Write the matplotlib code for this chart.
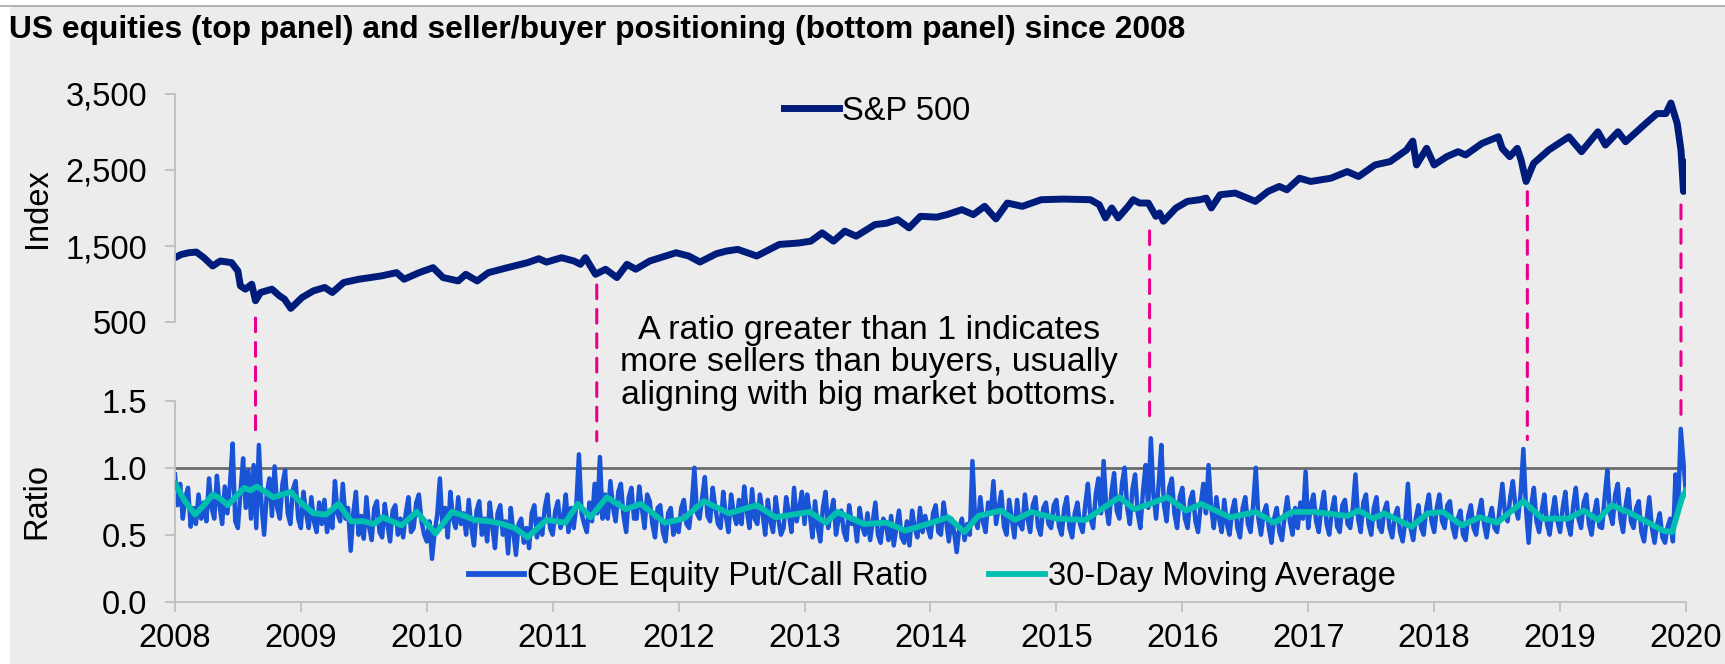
import matplotlib
matplotlib.use("Agg")
import matplotlib.pyplot as plt
from matplotlib.patches import Rectangle, ConnectionPatch
from matplotlib.lines import Line2D

plt.rcParams['font.family'] = ['Liberation Sans', 'DejaVu Sans']

# S&P 500 index (date, level)
sp_dates = [2008.00, 2008.05, 2008.11, 2008.17, 2008.23, 2008.30, 2008.36, 2008.45, 2008.50, 2008.52,
            2008.56, 2008.61, 2008.64, 2008.68, 2008.77, 2008.83, 2008.87, 2008.92, 2009.01, 2009.10,
            2009.19, 2009.25, 2009.34, 2009.46, 2009.55, 2009.64, 2009.76, 2009.82, 2009.94, 2010.05,
            2010.13, 2010.25, 2010.31, 2010.40, 2010.49, 2010.64, 2010.80, 2010.89, 2010.95, 2011.07,
            2011.17, 2011.22, 2011.26, 2011.34, 2011.42, 2011.51, 2011.59, 2011.66, 2011.77, 2011.98,
            2012.08, 2012.17, 2012.30, 2012.38, 2012.47, 2012.62, 2012.80, 2012.95, 2013.05, 2013.14,
            2013.23, 2013.32, 2013.41, 2013.56, 2013.65, 2013.74, 2013.83, 2013.92, 2014.05, 2014.13,
            2014.25, 2014.34, 2014.43, 2014.52, 2014.61, 2014.73, 2014.88, 2015.06, 2015.27, 2015.34,
            2015.39, 2015.44, 2015.49, 2015.57, 2015.61, 2015.66, 2015.73, 2015.79, 2015.82, 2015.85,
            2015.95, 2016.04, 2016.14, 2016.19, 2016.23, 2016.30, 2016.42, 2016.58, 2016.68, 2016.77,
            2016.83, 2016.93, 2017.02, 2017.18, 2017.31, 2017.40, 2017.53, 2017.65, 2017.78, 2017.83,
            2017.86, 2017.94, 2018.00, 2018.10, 2018.19, 2018.25, 2018.38, 2018.51, 2018.54, 2018.60,
            2018.66, 2018.69, 2018.73, 2018.79, 2018.91, 2019.07, 2019.17, 2019.30, 2019.36, 2019.46,
            2019.52, 2019.68, 2019.77, 2019.84, 2019.88, 2019.93, 2019.96, 2019.98, 2020.00]
sp_values = [1348, 1390, 1413, 1422, 1348, 1239, 1304, 1283, 1174, 978,
             935, 1000, 783, 891, 935, 848, 804, 683, 826, 913,
             957, 891, 1022, 1065, 1087, 1109, 1152, 1065, 1152, 1217,
             1087, 1043, 1130, 1043, 1152, 1217, 1283, 1335, 1290, 1348,
             1304, 1261, 1348, 1130, 1196, 1087, 1261, 1196, 1304, 1413,
             1370, 1291, 1400, 1435, 1457, 1370, 1522, 1540, 1565, 1674,
             1565, 1696, 1630, 1783, 1800, 1848, 1739, 1891, 1880, 1913,
             1978, 1913, 2022, 1857, 2065, 2022, 2109, 2117, 2109, 2043,
             1870, 2000, 1870, 2022, 2109, 2065, 2065, 1891, 1935, 1826,
             2000, 2087, 2109, 2130, 2000, 2174, 2196, 2087, 2217, 2283,
             2239, 2391, 2348, 2391, 2478, 2413, 2565, 2609, 2761, 2878,
             2565, 2783, 2565, 2674, 2739, 2696, 2848, 2935, 2783, 2674,
             2783, 2630, 2348, 2587, 2761, 2935, 2739, 3000, 2826, 3000,
             2870, 3109, 3239, 3239, 3378, 3109, 2761, 2217, 2600]

# CBOE equity put/call ratio, read roughly weekly (48 per year) from 2008 to 2020
ratio_values = [
    # 2008
    0.95, 0.72, 0.88, 0.62, 0.78, 0.85, 0.56, 0.70, 0.58, 0.80, 0.62, 0.74, 0.60, 0.92, 0.70, 0.62,
    0.94, 0.72, 0.58, 0.86, 0.66, 0.88, 1.18, 0.60, 0.55, 0.82, 1.07, 0.70, 0.98, 0.62, 1.02, 0.55,
    1.17, 0.72, 0.50, 0.80, 0.92, 0.64, 1.01, 0.70, 0.62, 0.88, 0.98, 0.66, 0.58, 0.84, 0.90, 0.62,
    # 2009
    0.55, 0.82, 0.66, 0.55, 0.78, 0.60, 0.52, 0.74, 0.58, 0.76, 0.52, 0.68, 0.55, 0.90, 0.66, 0.60,
    0.88, 0.62, 0.70, 0.38, 0.66, 0.82, 0.50, 0.64, 0.47, 0.78, 0.56, 0.46, 0.70, 0.75, 0.52, 0.48,
    0.73, 0.58, 0.45, 0.68, 0.72, 0.50, 0.62, 0.48, 0.66, 0.78, 0.52, 0.55, 0.74, 0.80, 0.60, 0.50,
    # 2010
    0.45, 0.60, 0.32, 0.52, 0.65, 0.92, 0.56, 0.70, 0.48, 0.82, 0.62, 0.55, 0.78, 0.58, 0.66, 0.50,
    0.76, 0.55, 0.42, 0.68, 0.75, 0.50, 0.62, 0.45, 0.74, 0.56, 0.40, 0.66, 0.72, 0.50, 0.60, 0.36,
    0.70, 0.52, 0.35, 0.58, 0.62, 0.44, 0.55, 0.40, 0.66, 0.72, 0.48, 0.62, 0.50, 0.70, 0.80, 0.55,
    # 2011
    0.50, 0.68, 0.75, 0.55, 0.62, 0.80, 0.52, 0.70, 0.55, 0.72, 1.10, 0.66, 0.58, 0.52, 0.74, 0.60,
    0.88, 0.66, 1.08, 0.62, 0.80, 0.62, 0.90, 0.70, 0.60, 0.82, 0.88, 0.64, 0.52, 0.78, 0.85, 0.62,
    0.62, 0.86, 0.70, 0.55, 0.80, 0.75, 0.58, 0.48, 0.70, 0.72, 0.52, 0.45, 0.66, 0.70, 0.50, 0.58,
    # 2012
    0.52, 0.70, 0.76, 0.58, 0.55, 0.72, 1.00, 0.66, 0.62, 0.78, 0.93, 0.64, 0.60, 0.85, 0.70, 0.58,
    0.55, 0.82, 0.64, 0.52, 0.80, 0.66, 0.58, 0.76, 0.58, 0.86, 0.68, 0.55, 0.84, 0.62, 0.58, 0.80,
    0.66, 0.50, 0.76, 0.60, 0.52, 0.78, 0.62, 0.50, 0.55, 0.78, 0.66, 0.52, 0.85, 0.60, 0.70, 0.82,
    # 2013
    0.58, 0.80, 0.66, 0.48, 0.75, 0.56, 0.45, 0.70, 0.82, 0.55, 0.66, 0.76, 0.50, 0.62, 0.68, 0.52,
    0.46, 0.72, 0.58, 0.62, 0.45, 0.70, 0.56, 0.50, 0.66, 0.46, 0.60, 0.74, 0.50, 0.44, 0.62, 0.58,
    0.46, 0.64, 0.42, 0.55, 0.68, 0.48, 0.44, 0.60, 0.42, 0.68, 0.55, 0.48, 0.70, 0.52, 0.64, 0.55,
    # 2014
    0.48, 0.66, 0.72, 0.52, 0.50, 0.74, 0.60, 0.45, 0.62, 0.52, 0.37, 0.55, 0.62, 0.46, 0.58, 0.50,
    1.05, 0.62, 0.55, 0.78, 0.60, 0.52, 0.74, 0.66, 0.90, 0.58, 0.70, 0.82, 0.56, 0.50, 0.76, 0.62,
    0.48, 0.76, 0.58, 0.54, 0.80, 0.62, 0.52, 0.72, 0.78, 0.56, 0.50, 0.70, 0.74, 0.58, 0.55, 0.72,
    # 2015
    0.76, 0.56, 0.50, 0.70, 0.78, 0.55, 0.48, 0.66, 0.74, 0.58, 0.52, 0.72, 0.88, 0.62, 0.55, 0.80,
    0.92, 0.66, 1.05, 0.70, 0.58, 0.82, 0.96, 0.68, 0.62, 0.88, 1.00, 0.70, 0.58, 0.84, 0.95, 0.66,
    0.55, 0.82, 1.02, 0.70, 1.22, 0.80, 0.62, 0.88, 1.17, 0.72, 0.60, 0.85, 0.92, 0.66, 0.55, 0.78,
    # 2016
    0.85, 0.62, 0.55, 0.76, 0.82, 0.60, 0.52, 0.72, 0.88, 0.66, 1.02, 0.70, 0.55, 0.78, 0.62, 0.52,
    0.76, 0.58, 0.50, 0.68, 0.76, 0.55, 0.48, 0.70, 0.78, 0.58, 0.52, 0.72, 1.00, 0.62, 0.50, 0.66,
    0.72, 0.55, 0.44, 0.62, 0.70, 0.52, 0.46, 0.64, 0.78, 0.60, 0.50, 0.70, 0.55, 0.74, 0.62, 0.97,
    # 2017
    0.55, 0.72, 0.80, 0.60, 0.52, 0.70, 0.82, 0.58, 0.50, 0.68, 0.78, 0.56, 0.52, 0.72, 0.76, 0.58,
    0.55, 0.70, 0.95, 0.62, 0.52, 0.74, 0.80, 0.58, 0.50, 0.70, 0.78, 0.56, 0.52, 0.68, 0.74, 0.55,
    0.48, 0.64, 0.70, 0.52, 0.45, 0.60, 0.88, 0.55, 0.46, 0.62, 0.72, 0.55, 0.50, 0.70, 0.80, 0.60,
    # 2018
    0.52, 0.70, 0.80, 0.60, 0.55, 0.72, 0.75, 0.56, 0.48, 0.62, 0.68, 0.50, 0.46, 0.64, 0.72, 0.55,
    0.50, 0.66, 0.76, 0.58, 0.48, 0.62, 0.70, 0.55, 0.52, 0.70, 0.88, 0.66, 0.60, 0.78, 0.90, 0.70,
    0.62, 0.82, 1.14, 0.70, 0.44, 0.72, 0.85, 0.60, 0.52, 0.68, 0.80, 0.58, 0.50, 0.66, 0.78, 0.60,
    # 2019
    0.52, 0.70, 0.82, 0.58, 0.50, 0.72, 0.85, 0.62, 0.55, 0.74, 0.80, 0.58, 0.50, 0.66, 0.76, 0.56,
    0.55, 0.78, 0.98, 0.66, 0.58, 0.80, 0.88, 0.62, 0.52, 0.72, 0.84, 0.60, 0.55, 0.70, 0.75, 0.52,
    0.45, 0.62, 0.78, 0.55, 0.44, 0.58, 0.66, 0.48, 0.44, 0.56, 0.62, 0.45, 0.95, 0.70, 1.29, 1.05,
    # 2020
    0.80,
]
ratio_dates = [2008 + i / 48 for i in range(len(ratio_values))]

# 30-day moving average (date, value)
ma_dates = [2008.00, 2008.08, 2008.16, 2008.23, 2008.30, 2008.36, 2008.42, 2008.48, 2008.55, 2008.60,
            2008.65, 2008.72, 2008.78, 2008.85, 2008.92, 2009.00, 2009.10, 2009.20, 2009.30, 2009.40,
            2009.50, 2009.58, 2009.65, 2009.80, 2009.92, 2010.07, 2010.20, 2010.30, 2010.38, 2010.50,
            2010.60, 2010.70, 2010.80, 2010.95, 2011.10, 2011.20, 2011.30, 2011.43, 2011.58, 2011.70,
            2011.89, 2012.04, 2012.20, 2012.40, 2012.62, 2012.77, 2013.04, 2013.17, 2013.26, 2013.47,
            2013.65, 2013.80, 2014.01, 2014.14, 2014.27, 2014.38, 2014.56, 2014.67, 2014.80, 2015.00,
            2015.23, 2015.50, 2015.62, 2015.74, 2015.88, 2016.03, 2016.15, 2016.38, 2016.58, 2016.73,
            2016.87, 2017.05, 2017.31, 2017.40, 2017.52, 2017.60, 2017.82, 2017.95, 2018.07, 2018.22,
            2018.36, 2018.50, 2018.71, 2018.86, 2019.06, 2019.19, 2019.30, 2019.41, 2019.56, 2019.70,
            2019.82, 2019.89, 2019.97, 2020.00]
ma_values = [0.88, 0.75, 0.65, 0.72, 0.80, 0.77, 0.72, 0.78, 0.85, 0.83,
             0.86, 0.82, 0.78, 0.80, 0.82, 0.74, 0.66, 0.65, 0.73, 0.60,
             0.60, 0.58, 0.63, 0.57, 0.67, 0.51, 0.67, 0.64, 0.61, 0.60,
             0.58, 0.55, 0.48, 0.61, 0.59, 0.73, 0.63, 0.78, 0.69, 0.73,
             0.59, 0.62, 0.75, 0.66, 0.72, 0.63, 0.67, 0.59, 0.67, 0.58,
             0.59, 0.53, 0.59, 0.63, 0.52, 0.64, 0.68, 0.61, 0.67, 0.62,
             0.61, 0.78, 0.69, 0.73, 0.78, 0.68, 0.73, 0.63, 0.67, 0.59,
             0.67, 0.67, 0.64, 0.68, 0.62, 0.66, 0.56, 0.66, 0.67, 0.57,
             0.63, 0.59, 0.75, 0.62, 0.62, 0.68, 0.61, 0.72, 0.66, 0.59,
             0.53, 0.52, 0.78, 0.83]

# market bottoms marked with dashed lines: date, S&P end, ratio end
bottom_dates = [2008.64, 2011.35, 2015.74, 2018.74, 2019.96]
bottom_sp = [556, 990, 1700, 2214, 2039]
bottom_ratio = [1.28, 1.20, 1.32, 1.21, 1.38]

years = list(range(2008, 2021))

navy = '#001c7a'
blue = '#1a54d6'
teal = '#00bfae'
pink = '#e8008a'
grey_ax = '#bfbfbf'
bg = '#ececec'
fs = 23.5

fig = plt.figure(figsize=(17.25, 6.64), dpi=100, facecolor='white')
fig.patches.append(Rectangle((10 / 1725, 0), 1, 1 - 6 / 664, transform=fig.transFigure,
                             facecolor=bg, edgecolor='none', zorder=-10))
fig.add_artist(Line2D([0, 1], [1 - 6 / 664, 1 - 6 / 664], transform=fig.transFigure,
                      color='#a6a6a6', lw=1.2))

ax1 = fig.add_axes([0.1014, 0.5146, 0.876, 0.3443])
ax2 = fig.add_axes([0.1014, 0.0938, 0.876, 0.3027])

for ax in (ax1, ax2):
    ax.set_facecolor('none')
    ax.set_xlim(2008, 2020)
    for s in ('top', 'right'):
        ax.spines[s].set_visible(False)
    ax.spines['left'].set_color(grey_ax)
    ax.spines['left'].set_linewidth(1.3)
    ax.tick_params(axis='y', length=7, width=1.3, color=grey_ax, labelsize=fs, pad=13)

# top panel
ax1.plot(sp_dates, sp_values, color=navy, lw=5, label='S&P 500', solid_joinstyle='round')
ax1.set_ylim(500, 3500)
ax1.set_yticks([500, 1500, 2500, 3500])
ax1.set_yticklabels(['{:,}'.format(v) for v in [500, 1500, 2500, 3500]])
ax1.spines['bottom'].set_visible(False)
ax1.set_xticks([])
ax1.set_ylabel('Index', fontsize=fs)
ax1.yaxis.set_label_coords(-0.081, 0.5)
ax1.legend(loc='upper center', bbox_to_anchor=(0.4646, 1.12), frameon=False, fontsize=fs,
           handlelength=1.7, handletextpad=0.08)

# bottom panel
ax2.axhline(1.0, color='#6b6b6b', lw=2, zorder=1)
ax2.plot(ratio_dates, ratio_values, color=blue, lw=3.2, label='CBOE Equity Put/Call Ratio', zorder=2)
ax2.plot(ma_dates, ma_values, color=teal, lw=4.2, label='30-Day Moving Average', zorder=3)
ax2.set_ylim(0, 1.5)
ax2.set_yticks([0, 0.5, 1.0, 1.5])
ax2.set_yticklabels(['%.1f' % v for v in [0, 0.5, 1.0, 1.5]])
ax2.set_xticks(years)
ax2.set_xticklabels([str(y) for y in years])
ax2.spines['bottom'].set_color(grey_ax)
ax2.spines['bottom'].set_linewidth(1.3)
ax2.tick_params(axis='x', length=7, width=1.3, color=grey_ax, labelsize=fs, pad=8)
ax2.set_ylabel('Ratio', fontsize=fs)
ax2.yaxis.set_label_coords(-0.081, 0.5)
leg = ax2.legend(loc='center', bbox_to_anchor=(0.501, 0.123), ncol=2, frameon=False, fontsize=fs,
                 handlelength=1.7, handletextpad=0.08, columnspacing=1.9)
for h in leg.get_lines():
    h.set_linewidth(4.2)

# dashed connectors between the two panels
for d, s, r in zip(bottom_dates, bottom_sp, bottom_ratio):
    con = ConnectionPatch(xyA=(d, s), coordsA=ax1.transData, xyB=(d, r), coordsB=ax2.transData,
                          color=pink, lw=2.2, linestyle=(0, (4.5, 3.5)))
    fig.add_artist(con)

fig.text(0.5038, 1 - 363 / 664,
         'A ratio greater than 1 indicates\nmore sellers than buyers, usually\naligning with big market bottoms.',
         ha='center', va='center', multialignment='center', fontsize=24.5, linespacing=1.08)

fig.text(9 / 1725, 1 - 30 / 664,
         'US equities (top panel) and seller/buyer positioning (bottom panel) since 2008',
         ha='left', va='center', fontsize=22.9, fontweight='bold')

fig.savefig('out.png', dpi=100, facecolor=fig.get_facecolor())
